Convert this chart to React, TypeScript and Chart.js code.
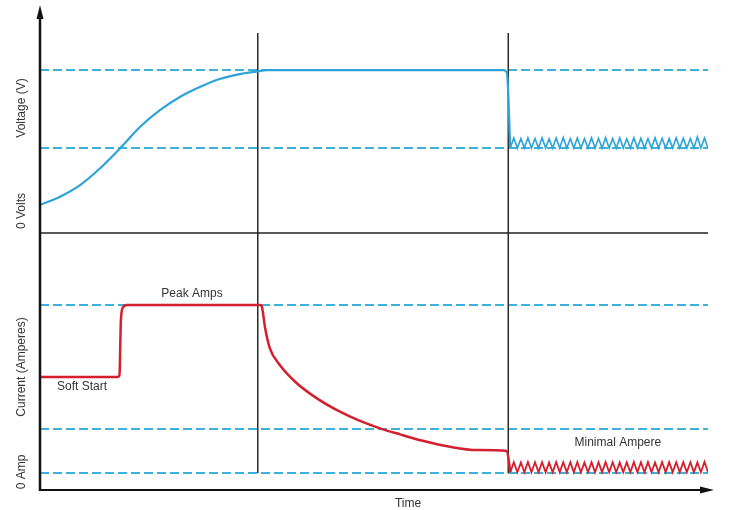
import React, { useEffect, useRef } from "react";
import { Chart, registerables } from "chart.js";

Chart.register(...registerables);

// ---- Data (time in arbitrary units 0..100) ----
const timeVolt = [0, 3.0, 6.0, 9.0, 12.0, 15.0, 18.0, 21.0, 24.0, 26.9, 29.9, 32.4, 34.0, 45, 55, 65, 69.4, 69.9, 70.4];
const voltValues = [17.2, 22.3, 29.4, 39.7, 52.0, 65.2, 75.5, 83.6, 89.7, 94.5, 97.5, 99.0, 100, 100, 100, 100, 100, 98.2, 52.1];

const timeCurr = [0, 11.6, 11.9, 12.1, 12.4, 13.0, 33.0, 33.2, 33.7, 34.4, 35.9, 38.4, 41.4, 44.9, 47.9, 50.9, 53.9, 57.3, 61.4, 65.4, 69.9, 70.4];
const currValues = [57.1, 57.1, 58.5, 90, 98.5, 100, 100, 99.2, 86.3, 74.4, 64.3, 53.6, 44.6, 36.5, 31.0, 26.6, 23.0, 19.2, 15.6, 13.7, 13.1, 0.5];

const rippleTime = [
  70.4, 70.93, 71.46, 71.99, 72.51, 73.04, 73.57, 74.1, 74.63, 75.16,
  75.69, 76.21, 76.74, 77.27, 77.8, 78.33, 78.86, 79.39, 79.91, 80.44,
  80.97, 81.5, 82.03, 82.56, 83.09, 83.61, 84.14, 84.67, 85.2, 85.73,
  86.26, 86.79, 87.31, 87.84, 88.37, 88.9, 89.43, 89.96, 90.49, 91.01,
  91.54, 92.07, 92.6, 93.13, 93.66, 94.19, 94.71, 95.24, 95.77, 96.3,
  96.83, 97.36, 97.89, 98.41, 98.94, 99.47, 100.0,
];
const voltRipple = [
  52.1, 58.3, 52.1, 57.9, 52.1, 58.5, 52.1, 58.0, 52.1, 58.4,
  52.1, 57.8, 52.1, 58.3, 52.1, 58.6, 52.1, 58.0, 52.1, 58.3,
  52.1, 57.9, 52.1, 58.4, 52.1, 58.1, 52.1, 58.6, 52.1, 58.0,
  52.1, 58.3, 52.1, 57.8, 52.1, 58.4, 52.1, 58.2, 52.1, 58.0,
  52.1, 58.5, 52.1, 58.1, 52.1, 57.9, 52.1, 58.4, 52.1, 58.2,
  52.1, 58.0, 52.1, 59.0, 52.1, 58.3, 52.1,
];
const currRipple = [
  0.5, 6.5, 0.5, 6.3, 0.5, 6.6, 0.5, 6.4, 0.5, 6.5,
  0.5, 6.3, 0.5, 6.6, 0.5, 6.5, 0.5, 6.4, 0.5, 6.6,
  0.5, 6.3, 0.5, 6.5, 0.5, 6.4, 0.5, 6.6, 0.5, 6.5,
  0.5, 6.3, 0.5, 6.5, 0.5, 6.6, 0.5, 6.4, 0.5, 6.5,
  0.5, 6.3, 0.5, 6.6, 0.5, 6.5, 0.5, 6.4, 0.5, 6.6,
  0.5, 6.5, 0.5, 6.3, 0.5, 6.7, 0.5,
];

const markerTimes = [32.6, 70.1];
const markerSpan = [122.7, -147.2]; // in voltage-axis units
const voltLevels = [100, 52.1];
const currLevels = [100, 26.2, 0];
const zeroVolt = 0;

const xRange = [0, 100];
const voltRange = [-157.7, 139.9];
const currRange = [-10.1, 278.6];

const axisTitles = [
  { text: "Voltage (V)", axis: "yV", value: 76.7 },
  { text: "0 Volts", axis: "yV", value: 13.5 },
  { text: "Current (Amperes)", axis: "yI", value: 63.1 },
  { text: "0 Amp", axis: "yI", value: 0.6 },
];
const plotNotes = [
  { text: "Soft Start", axis: "yI", x: 6.3, value: 51.2 },
  { text: "Peak Amps", axis: "yI", x: 22.75, value: 106.5 },
  { text: "Minimal Ampere", axis: "yI", x: 86.5, value: 17.9 },
];
const xTitle = { text: "Time", x: 55.1 };

const BLUE = "#2ea3d8";
const DASH = "#3cb2da";
const RED = "#d41f2e";
const FONT = '"Liberation Sans", Arial, Helvetica, sans-serif';

const pts = (xs: number[], ys: number[]) => xs.map((x, i) => ({ x, y: ys[i] }));

const decorPlugin = {
  id: "decor",
  afterDatasetsDraw(chart: any) {
    const { ctx, chartArea, scales } = chart;
    const { left, right, top, bottom } = chartArea;
    ctx.save();
    // axes
    ctx.strokeStyle = "#111";
    ctx.fillStyle = "#111";
    ctx.lineWidth = 2.5;
    ctx.beginPath();
    ctx.moveTo(left, bottom + 1);
    ctx.lineTo(left, top + 10);
    ctx.stroke();
    ctx.beginPath();
    ctx.moveTo(left, top);
    ctx.lineTo(left - 3.5, top + 14);
    ctx.lineTo(left + 3.5, top + 14);
    ctx.closePath();
    ctx.fill();
    ctx.lineWidth = 2;
    ctx.beginPath();
    ctx.moveTo(left - 1, bottom);
    ctx.lineTo(right, bottom);
    ctx.stroke();
    ctx.beginPath();
    ctx.moveTo(right + 6, bottom);
    ctx.lineTo(right - 8, bottom - 3.5);
    ctx.lineTo(right - 8, bottom + 3.5);
    ctx.closePath();
    ctx.fill();

    // texts
    ctx.fillStyle = "#333";
    ctx.textAlign = "center";
    ctx.textBaseline = "middle";
    ctx.font = `12px ${FONT}`;
    axisTitles.forEach((t) => {
      const y = scales[t.axis].getPixelForValue(t.value);
      ctx.save();
      ctx.translate(left - 18, y);
      ctx.rotate(-Math.PI / 2);
      ctx.fillText(t.text, 0, 0);
      ctx.restore();
    });
    plotNotes.forEach((t) => {
      ctx.fillText(t.text, scales.x.getPixelForValue(t.x), scales[t.axis].getPixelForValue(t.value));
    });
    ctx.fillText(xTitle.text, scales.x.getPixelForValue(xTitle.x), bottom + 14);
    ctx.restore();
  },
};

export default function App() {
  const ref = useRef<HTMLCanvasElement | null>(null);
  useEffect(() => {
    if (!ref.current) return;
    const dashed = (axis: string, level: number) => ({
      data: pts(xRange, [level, level]),
      yAxisID: axis,
      borderColor: DASH,
      borderWidth: 2,
      borderDash: [9, 4],
      pointRadius: 0,
      tension: 0,
      order: 3,
    });
    const datasets: any[] = [
      ...voltLevels.map((l) => dashed("yV", l)),
      ...currLevels.map((l) => dashed("yI", l)),
      {
        data: pts(xRange, [zeroVolt, zeroVolt]),
        yAxisID: "yV",
        borderColor: "#222",
        borderWidth: 1.5,
        pointRadius: 0,
        order: 2,
      },
      ...markerTimes.map((t) => ({
        data: pts([t, t], markerSpan),
        yAxisID: "yV",
        borderColor: "#2a2a2a",
        borderWidth: 1.5,
        pointRadius: 0,
        order: 2,
      })),
      {
        data: pts(timeVolt, voltValues),
        yAxisID: "yV",
        borderColor: BLUE,
        borderWidth: 2.2,
        pointRadius: 0,
        cubicInterpolationMode: "monotone",
        order: 0,
      },
      {
        data: pts(rippleTime, voltRipple),
        yAxisID: "yV",
        borderColor: BLUE,
        borderWidth: 1.6,
        pointRadius: 0,
        tension: 0,
        order: 0,
      },
      {
        data: pts(timeCurr, currValues),
        yAxisID: "yI",
        borderColor: RED,
        borderWidth: 2.5,
        pointRadius: 0,
        cubicInterpolationMode: "monotone",
        order: 0,
      },
      {
        data: pts(rippleTime, currRipple),
        yAxisID: "yI",
        borderColor: RED,
        borderWidth: 1.8,
        pointRadius: 0,
        tension: 0,
        order: 0,
      },
    ];
    const chart = new Chart(ref.current, {
      type: "line",
      data: { datasets },
      options: {
        animation: false,
        responsive: false,
        parsing: true,
        layout: { padding: { left: 40, right: 37, top: 5, bottom: 20 } },
        plugins: { legend: { display: false }, tooltip: { enabled: false } },
        scales: {
          x: { type: "linear", min: xRange[0], max: xRange[1], display: false },
          yV: { type: "linear", min: voltRange[0], max: voltRange[1], display: false },
          yI: { type: "linear", min: currRange[0], max: currRange[1], display: false },
        },
      },
      plugins: [decorPlugin],
    });
    return () => chart.destroy();
  }, []);
  return (
    <div style={{ position: "absolute", left: 0, top: 0, width: 745, height: 510, background: "#fff" }}>
      <canvas ref={ref} width={745} height={510} style={{ display: "block" }} />
    </div>
  );
}
